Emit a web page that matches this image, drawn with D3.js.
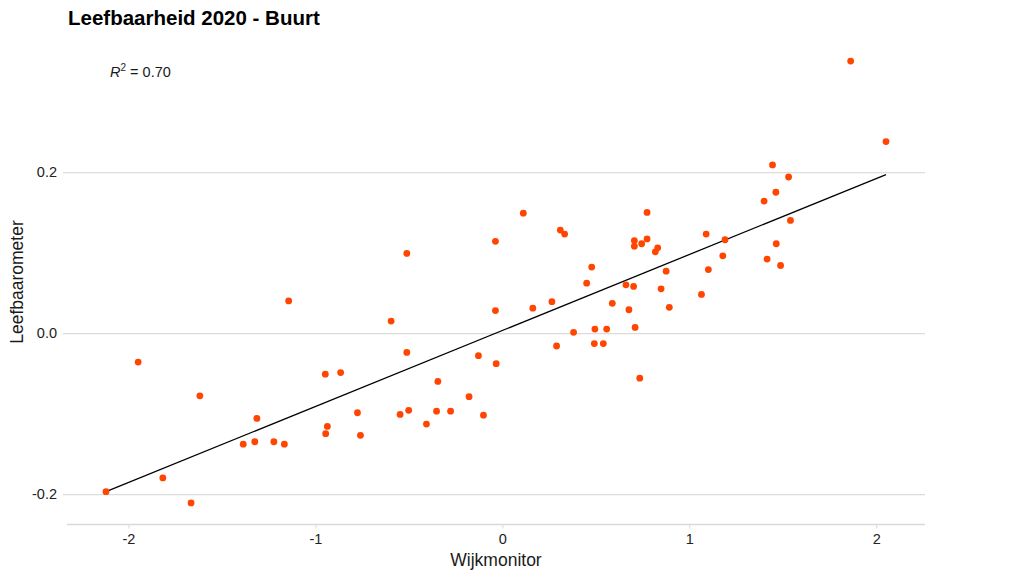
<!DOCTYPE html>
<html>
<head>
<meta charset="utf-8">
<script src="https://cdn.jsdelivr.net/npm/d3@7"></script>
<style>
  body { margin: 0; background: #fff; }
  text { font-family: "Liberation Sans", Arial, sans-serif; }
</style>
</head>
<body>
<svg id="chart" width="1030" height="580"></svg>
<script>
// Wijkmonitor score per buurt (x) and Leefbaarometer score (y)
const wijkmonitor = [
  -2.120, -1.948, -1.816, -1.665, -1.618, -1.386, -1.324, -1.313, -1.222, -1.166,
  -1.143, -0.947, -0.945, -0.936, -0.865, -0.775, -0.759, -0.595, -0.547, -0.511,
  -0.511, -0.501, -0.406, -0.352, -0.345, -0.277, -0.178, -0.128, -0.101, -0.037,
  -0.037, -0.033, 0.112, 0.163, 0.265, 0.290, 0.310, 0.333, 0.381, 0.451,
  0.478, 0.492, 0.495, 0.540, 0.558, 0.588, 0.661, 0.677, 0.702, 0.706,
  0.706, 0.710, 0.735, 0.745, 0.774, 0.774, 0.818, 0.831, 0.849, 0.876,
  0.893, 1.065, 1.090, 1.102, 1.179, 1.191, 1.400, 1.416, 1.445, 1.463,
  1.465, 1.488, 1.531, 1.541, 1.863, 2.052
];
const leefbaarometer = [
  -0.197, -0.036, -0.180, -0.211, -0.078, -0.138, -0.135, -0.106, -0.135, -0.138,
  0.040, -0.051, -0.125, -0.116, -0.049, -0.099, -0.127, 0.015, -0.101, 0.099,
  -0.024, -0.096, -0.113, -0.097, -0.060, -0.097, -0.079, -0.028, -0.102, 0.114,
  0.028, -0.038, 0.149, 0.031, 0.039, -0.016, 0.128, 0.123, 0.001, 0.062,
  0.082, -0.013, 0.005, -0.013, 0.005, 0.037, 0.060, 0.029, 0.058, 0.115,
  0.108, 0.007, -0.056, 0.111, 0.150, 0.117, 0.101, 0.106, 0.055, 0.077,
  0.032, 0.048, 0.123, 0.079, 0.096, 0.116, 0.164, 0.092, 0.209, 0.175,
  0.111, 0.084, 0.194, 0.140, 0.338, 0.238
];

// fitted line end points
const fitX = [-2.120, 2.052];
const fitY = [-0.197, 0.197];

const xTicks = [-2, -1, 0, 1, 2];
const yTicks = [-0.2, 0.0, 0.2];

const titleText = 'Leefbaarheid 2020 - Buurt';
const xTitle = 'Wijkmonitor';
const yTitle = 'Leefbaarometer';
const rSquared = '0.70';

const points = wijkmonitor.map((x, i) => ({ x: x, y: leefbaarometer[i] }));

const svg = d3.select('#chart');
const panel = { left: 67, right: 925, top: 39, bottom: 525 };

// ggplot-like 5% expansion of the data range
function expand(ext) {
    const pad = (ext[1] - ext[0]) * 0.05;
    return [ext[0] - pad, ext[1] + pad];
}

const x = d3.scaleLinear()
    .domain(expand(d3.extent(wijkmonitor)))
    .range([panel.left, panel.right]);

const y = d3.scaleLinear()
    .domain(expand(d3.extent(leefbaarometer)))
    .range([panel.bottom, panel.top]);

const fmtY = v => d3.format('.1f')(v).replace('−', '-');
const fmtX = v => String(v);

// horizontal gridlines with labels
const yAxis = svg.append('g')
    .attr('transform', `translate(${panel.right},0)`)
    .call(d3.axisLeft(y)
        .tickValues(yTicks)
        .tickSize(panel.right - 63)
        .tickPadding(6)
        .tickFormat(fmtY));
yAxis.select('.domain').remove();
yAxis.selectAll('.tick line').attr('stroke', '#dcdcdc').attr('stroke-width', 1.3);
yAxis.selectAll('.tick text')
    .attr('fill', '#222')
    .attr('font-size', '14.5px')
    .attr('font-family', '"Liberation Sans", Arial, sans-serif');

// bottom axis
const xAxis = svg.append('g')
    .attr('transform', `translate(0,${panel.bottom - 0.5})`)
    .call(d3.axisBottom(x)
        .tickValues(xTicks)
        .tickSize(4)
        .tickPadding(5)
        .tickFormat(fmtX));
xAxis.select('.domain')
    .attr('stroke', '#d9d9d9')
    .attr('stroke-width', 1.3)
    .attr('d', `M${panel.left},0H${panel.right}`);
xAxis.selectAll('.tick line').attr('stroke', '#d9d9d9');
xAxis.selectAll('.tick text')
    .attr('fill', '#222')
    .attr('font-size', '14.5px')
    .attr('font-family', '"Liberation Sans", Arial, sans-serif');

// regression line
svg.append('line')
    .attr('x1', x(fitX[0]))
    .attr('y1', y(fitY[0]))
    .attr('x2', x(fitX[1]))
    .attr('y2', y(fitY[1]))
    .attr('stroke', '#000')
    .attr('stroke-width', 1.3);

// points
svg.append('g')
    .selectAll('circle')
    .data(points)
    .join('circle')
    .attr('cx', d => x(d.x))
    .attr('cy', d => y(d.y))
    .attr('r', 3.4)
    .attr('fill', '#ff4500');

// title
svg.append('text')
    .attr('x', 68)
    .attr('y', 25)
    .attr('font-size', '20.5px')
    .attr('font-weight', 'bold')
    .attr('fill', '#000')
    .text(titleText);

// R squared annotation
const rTxt = svg.append('text')
    .attr('x', 110)
    .attr('y', 77)
    .attr('font-size', '14.5px')
    .attr('fill', '#1a1a1a');
rTxt.append('tspan').attr('font-style', 'italic').text('R');
rTxt.append('tspan').attr('font-size', '10px').attr('dy', -6).text('2');
rTxt.append('tspan').attr('dy', 6).text(' = ' + rSquared);

// axis titles
svg.append('text')
    .attr('x', (panel.left + panel.right) / 2)
    .attr('y', 566)
    .attr('text-anchor', 'middle')
    .attr('font-size', '17.5px')
    .attr('fill', '#1a1a1a')
    .text(xTitle);

svg.append('text')
    .attr('transform', `translate(23,${(panel.top + panel.bottom) / 2}) rotate(-90)`)
    .attr('text-anchor', 'middle')
    .attr('font-size', '17.5px')
    .attr('fill', '#1a1a1a')
    .text(yTitle);
</script>
</body>
</html>
